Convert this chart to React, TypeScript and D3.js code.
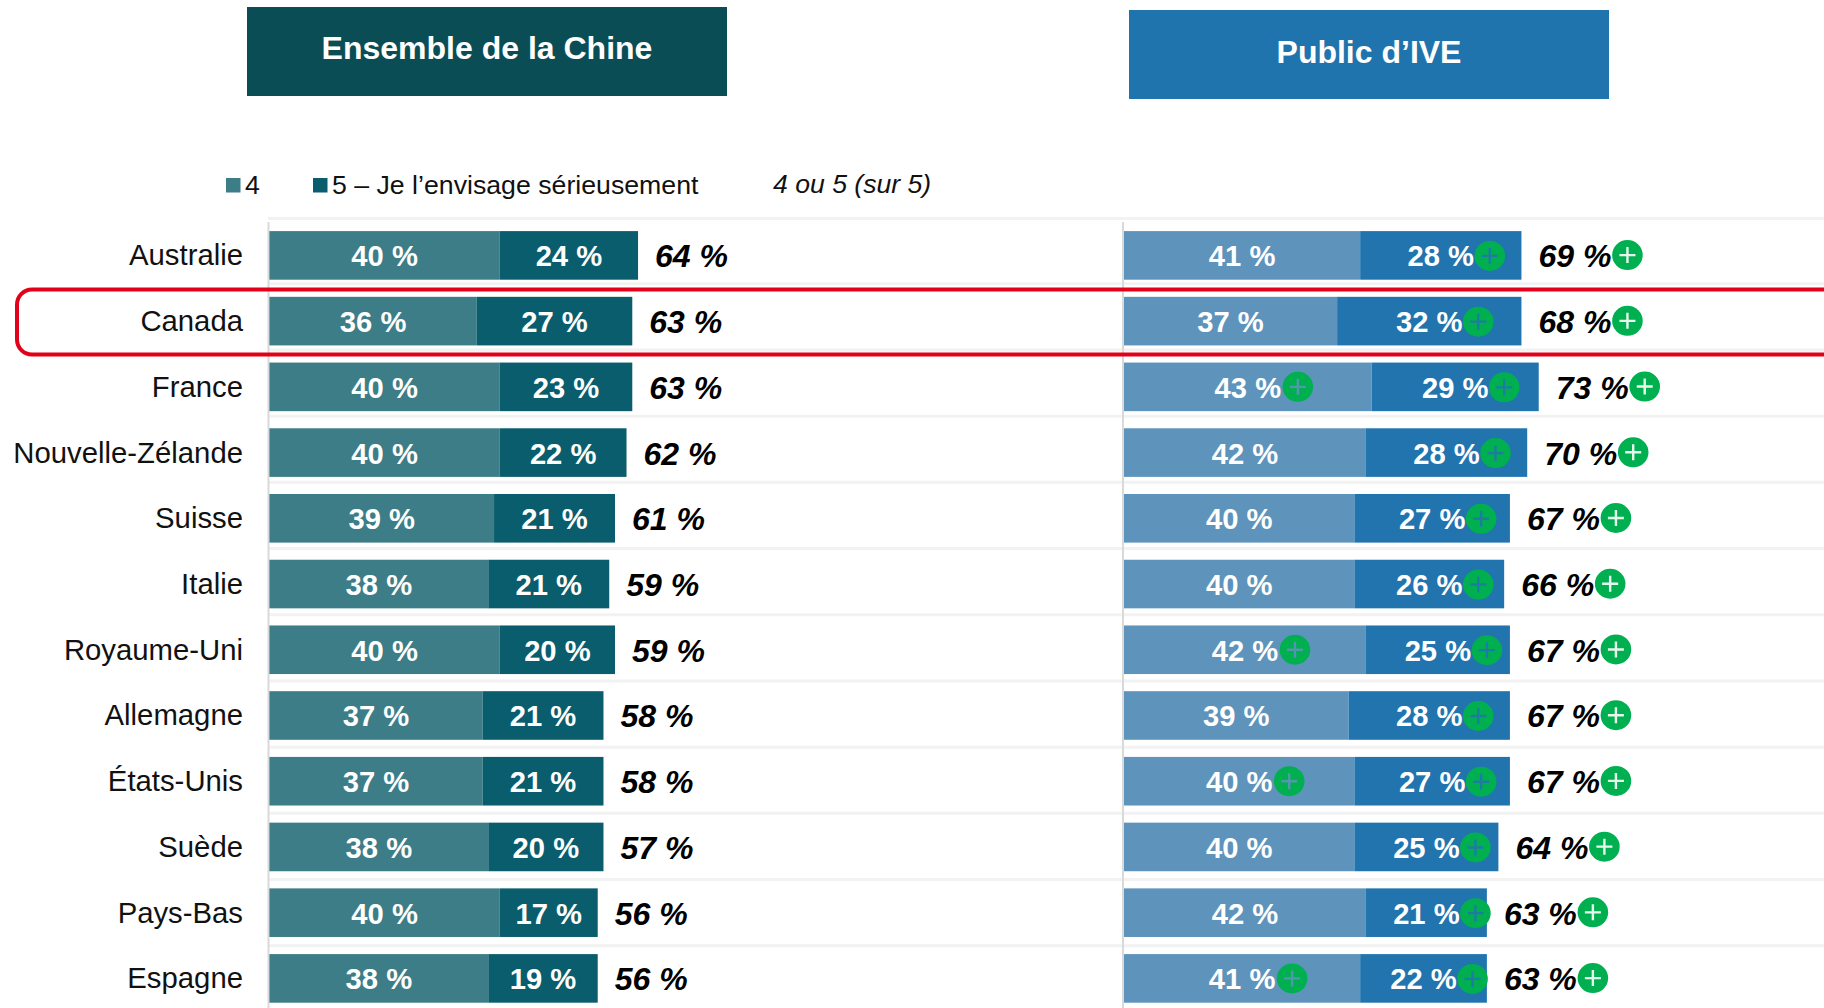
import React from "react";
import * as d3 from "d3";

const countries = ["Australie","Canada","France","Nouvelle-Zélande","Suisse","Italie","Royaume-Uni","Allemagne","États-Unis","Suède","Pays-Bas","Espagne"];
const chinaFour = [40,36,40,40,39,38,40,37,37,38,40,38];
const chinaFive = [24,27,23,22,21,21,20,21,21,20,17,19];
const chinaTotal = [64,63,63,62,61,59,59,58,58,57,56,56];
const iveFour = [41,37,43,42,40,40,42,39,40,40,42,41];
const iveFive = [28,32,29,28,27,26,25,28,27,25,21,22];
const iveTotal = [69,68,73,70,67,66,67,67,67,64,63,63];
const iveFourUp = [false,false,true,false,false,false,true,false,true,false,false,true];
const iveFiveUp = countries.map(() => true);
const iveTotalUp = countries.map(() => true);
const rowIndex = countries.map((_, i) => i);
const legendLabels = ["4", "5 – Je l’envisage sérieusement", "4 ou 5 (sur 5)"];
const headers = ["Ensemble de la Chine", "Public d’IVE"];

const FONT = "'Liberation Sans', Arial, sans-serif";
const C = { c4: "#3c7d87", c5: "#0a5d6d", i4: "#5e94bb", i5: "#2174ae", green: "#00b050", head1: "#0a4d55", head2: "#2074ad", red: "#e3001b", grid: "#f2f2f2", axis: "#d9d9d9" };

const W = 1824, H = 1008;
const y = d3.scaleLinear().domain([0, 11]).range([255.4, 978.4]);
const gridY = d3.scaleLinear().domain([0, 10]).range([283.8, 945.7]);
const BAR_H = 48.6;
const xL = d3.scaleLinear().domain([0, 100]).range([269.4, 845.4]);
const xR = d3.scaleLinear().domain([0, 100]).range([1124, 1700]);

function Plus({ cx, cy, inBar, barColor }: { cx: number; cy: number; inBar: boolean; barColor: string }) {
  const stroke = inBar ? barColor : "#e8f7ee";
  return (
    <g>
      <ellipse cx={cx} cy={cy} rx={15.3} ry={15} fill={C.green} />
      <path d={`M${cx - 8} ${cy}H${cx + 8}M${cx} ${cy - 8}V${cy + 8}`} stroke={stroke} strokeWidth={2.4} fill="none" opacity={inBar ? 0.85 : 1} />
    </g>
  );
}

function Panel({ x, four, five, total, col4, col5, fourUp, fiveUp, totalUp }: any) {
  return (
    <g>
      {rowIndex.map((i) => {
        const a = x(four[i]);
        const b = x(four[i] + five[i]);
        const x0 = x(0);
        const cy = y(i);
        const top = cy - BAR_H / 2;
        const m4 = (x0 + a) / 2;
        const m5 = (a + b) / 2;
        const tx = b + 17;
        return (
          <g key={i}>
            <rect x={x0} y={top} width={a - x0} height={BAR_H} fill={col4} />
            <rect x={a} y={top} width={b - a} height={BAR_H} fill={col5} />
            <text x={m4} y={cy + 11} fontSize={29.2} fontWeight={700} fill="#fff" textAnchor="middle">{four[i]} %</text>
            <text x={m5} y={cy + 11} fontSize={29.2} fontWeight={700} fill="#fff" textAnchor="middle">{five[i]} %</text>
            <text x={tx} y={cy + 12} fontSize={32} fontWeight={700} fontStyle="italic" fill="#000">{total[i]} %</text>
            {fourUp && fourUp[i] && <Plus cx={m4 + 50} cy={cy} inBar barColor={col4} />}
            {fiveUp && fiveUp[i] && <Plus cx={m5 + 49} cy={cy + 0.5} inBar barColor={col5} />}
            {totalUp && totalUp[i] && <Plus cx={tx + 89} cy={cy - 0.3} inBar={false} barColor={col5} />}
          </g>
        );
      })}
    </g>
  );
}

export default function App() {
  const gridYs = [218.5, ...d3.range(0, 11).map((i) => gridY(i))];
  return (
    <svg width={W} height={H} viewBox={`0 0 ${W} ${H}`} style={{ position: "fixed", left: 0, top: 0, display: "block", background: "#fff" }} fontFamily={FONT}>
      <rect x={247} y={7} width={480} height={89} fill={C.head1} />
      <text x={487} y={59} fontSize={32} fontWeight={700} fill="#fff" textAnchor="middle">{headers[0]}</text>
      <rect x={1129} y={10} width={480} height={89} fill={C.head2} />
      <text x={1369} y={63} fontSize={32} fontWeight={700} fill="#fff" textAnchor="middle">{headers[1]}</text>

      <rect x={226} y={178} width={14.5} height={14.5} fill={C.c4} />
      <text x={245} y={194} fontSize={26.7} fill="#111">{legendLabels[0]}</text>
      <rect x={313} y={178} width={14.5} height={14.5} fill={C.c5} />
      <text x={332} y={194} fontSize={26.7} fill="#111">{legendLabels[1]}</text>
      <text x={773} y={193} fontSize={26.6} fontStyle="italic" fill="#111">{legendLabels[2]}</text>

      {gridYs.map((g, i) => (
        <line key={i} x1={268} x2={W} y1={g} y2={g} stroke={C.grid} strokeWidth={3} />
      ))}
      <line x1={268.5} x2={268.5} y1={222} y2={H} stroke={C.axis} strokeWidth={2} />
      <line x1={1123} x2={1123} y1={222} y2={H} stroke={C.axis} strokeWidth={2} />

      {countries.map((c, i) => (
        <text key={c} x={243} y={y(i) + 10} fontSize={29.3} fill="#111" textAnchor="end">{c}</text>
      ))}

      <Panel x={xL} four={chinaFour} five={chinaFive} total={chinaTotal} col4={C.c4} col5={C.c5} />
      <Panel x={xR} four={iveFour} five={iveFive} total={iveTotal} col4={C.i4} col5={C.i5} fourUp={iveFourUp} fiveUp={iveFiveUp} totalUp={iveTotalUp} />

      <rect x={17} y={289.5} width={W + 40} height={65} rx={15} ry={15} fill="none" stroke={C.red} strokeWidth={4} />
    </svg>
  );
}
